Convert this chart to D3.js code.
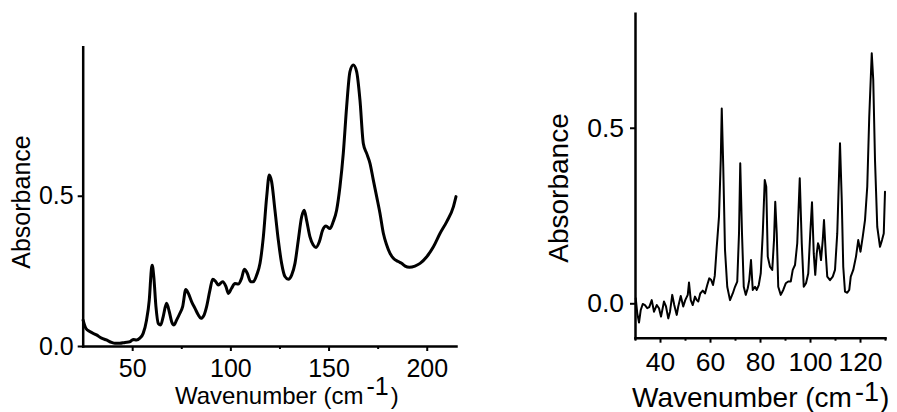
<!DOCTYPE html>
<html><head><meta charset="utf-8">
<script src="https://cdn.jsdelivr.net/npm/d3@7"></script>
<style>
body{margin:0;background:#fff}
svg{display:block;background:#fff}
text{font-family:Arial,"Liberation Sans",Helvetica,sans-serif;fill:#000}
</style>
</head><body>
<svg id="chart" width="897" height="412"></svg>
<script>
// ---------- data ----------
const leftWavenumber = [25.0,26.4,28.4,31.8,34.4,36.9,39.5,41.2,43.7,46.3,48.8,50.5,52.2,53.9,55.6,57.3,58.7,59.9,60.2,61.0,62.1,63.3,64.5,65.8,67.5,68.9,70.1,71.3,72.6,74.3,75.7,77.3,78.6,80.3,82.0,83.7,85.0,86.6,87.9,89.6,91.0,92.6,93.9,96.1,97.8,99.0,100.6,102.3,104.0,105.7,107.1,108.6,110.3,111.7,113.4,115.1,116.8,118.5,119.8,121.0,122.7,124.4,126.1,127.8,129.5,131.2,132.9,134.6,136.3,137.6,138.8,140.5,142.2,143.6,145.3,147.0,148.7,150.7,152.4,154.1,155.8,157.5,159.2,160.9,162.6,164.3,166.0,167.7,169.4,171.1,172.8,174.5,176.2,177.9,179.6,181.3,183.0,185.5,187.2,189.0,191.2,194.0,196.6,200.0,203.4,206.8,210.2,213.6,214.9];
const leftAbsorbance = [0.086,0.059,0.048,0.037,0.026,0.020,0.012,0.009,0.009,0.012,0.014,0.022,0.020,0.026,0.042,0.086,0.153,0.262,0.269,0.231,0.131,0.075,0.070,0.098,0.142,0.114,0.081,0.070,0.086,0.109,0.131,0.188,0.175,0.147,0.125,0.103,0.092,0.103,0.131,0.186,0.222,0.214,0.203,0.214,0.197,0.175,0.192,0.208,0.206,0.225,0.255,0.242,0.214,0.214,0.236,0.275,0.364,0.497,0.569,0.547,0.452,0.353,0.275,0.231,0.222,0.236,0.275,0.353,0.430,0.452,0.419,0.364,0.336,0.328,0.347,0.386,0.399,0.391,0.414,0.452,0.530,0.641,0.796,0.913,0.935,0.913,0.818,0.674,0.641,0.608,0.552,0.497,0.441,0.375,0.336,0.308,0.292,0.281,0.275,0.266,0.262,0.266,0.275,0.297,0.330,0.375,0.414,0.464,0.497];

const rightWavenumber = [30.3,30.9,31.6,32.3,33.1,34.0,34.9,35.7,36.7,37.6,38.7,39.6,40.4,41.6,42.4,43.3,44.0,44.9,45.7,46.7,47.3,48.3,49.3,50.1,51.1,51.6,52.3,53.1,54.0,54.7,55.3,56.1,57.1,58.0,58.9,59.7,60.5,61.2,61.9,62.7,63.6,64.3,64.7,65.3,66.0,66.9,68.0,69.1,70.0,70.9,71.6,72.1,72.8,73.5,74.3,75.1,75.7,76.4,77.1,78.0,78.7,79.5,80.3,81.1,81.9,82.5,83.1,84.0,84.9,85.6,86.1,86.7,87.3,88.3,89.3,90.3,91.3,92.3,93.1,94.0,94.9,95.9,96.7,97.5,98.4,99.3,100.1,100.8,101.5,102.1,102.7,103.2,103.7,104.4,105.1,105.6,106.3,106.9,108.0,109.1,110.0,110.9,112.0,112.7,113.3,114.0,114.9,115.7,116.3,117.3,118.4,119.3,120.2,121.1,122.0,122.9,123.7,124.7,125.3,126.0,126.9,128.0,128.8,129.5,130.0];
const rightAbsorbance = [0.014,-0.028,-0.055,-0.019,-0.002,-0.005,-0.014,-0.011,0.009,-0.024,-0.005,-0.014,-0.038,0.005,-0.009,-0.043,-0.024,0.024,-0.005,-0.033,-0.009,0.021,-0.009,0.009,0.024,0.059,0.009,-0.005,0.019,0.009,0.005,0.028,0.036,0.028,0.052,0.071,0.066,0.052,0.078,0.161,0.247,0.408,0.555,0.389,0.152,0.047,0.009,0.028,0.047,0.062,0.199,0.399,0.199,0.047,0.024,0.043,0.066,0.123,0.038,0.047,0.038,0.052,0.085,0.199,0.351,0.332,0.133,0.104,0.095,0.180,0.289,0.199,0.047,0.024,0.038,0.057,0.062,0.062,0.095,0.109,0.171,0.356,0.171,0.047,0.057,0.085,0.199,0.288,0.142,0.081,0.142,0.171,0.161,0.123,0.180,0.237,0.142,0.076,0.066,0.076,0.095,0.199,0.456,0.294,0.104,0.033,0.030,0.038,0.076,0.095,0.133,0.180,0.147,0.190,0.237,0.332,0.532,0.712,0.636,0.408,0.218,0.161,0.180,0.199,0.318];

const leftXTicks = [50, 100, 150, 200];
const leftXMinorTicks = [75, 125, 175];
const leftYTicks = [0, 0.5];
const rightXTicks = [40, 60, 80, 100, 120];
const rightXMinorTicks = [30, 50, 70, 90, 110, 130];
const rightYTicks = [0, 0.5];
const xTitleText = "Wavenumber (cm";
const xTitleSup = "-1";
const xTitleEnd = ")";
const yTitleText = "Absorbance";

// ---------- drawing ----------
const svg = d3.select("#chart");

function drawPanel(o) {
  const g = svg.append("g");
  const x = d3.scaleLinear().domain(o.xDomain).range(o.xRange);
  const y = d3.scaleLinear().domain(o.yDomain).range(o.yRange);

  // spectrum
  const line = d3.line().x((d, i) => x(o.xs[i])).y(d => y(d)).curve(o.curve);
  g.append("path")
    .datum(o.ys)
    .attr("d", line)
    .attr("fill", "none")
    .attr("stroke", "#000")
    .attr("stroke-width", o.lineWidth)
    .attr("stroke-linejoin", "round")
    .attr("stroke-linecap", "round");

  // minor x ticks
  const xm = g.append("g")
    .attr("transform", `translate(0,${o.yRange[0]})`)
    .call(d3.axisBottom(x).tickValues(o.xMinor).tickSize(3).tickSizeOuter(0).tickFormat(""));
  xm.select(".domain").remove();
  xm.selectAll(".tick line").attr("stroke-width", 2);

  // x axis
  const xa = g.append("g")
    .attr("transform", `translate(0,${o.yRange[0]})`)
    .call(d3.axisBottom(x).tickValues(o.xTicks).tickSize(5).tickSizeOuter(0)
      .tickPadding(o.xPad).tickFormat(d3.format("d")));
  xa.select(".domain").attr("stroke-width", 2.5).attr("stroke-linecap", "square");
  xa.selectAll(".tick line").attr("stroke-width", 2);
  xa.selectAll(".tick text").attr("font-size", o.tickFont)
    .attr("font-family", "Arial, 'Liberation Sans', sans-serif");

  // y axis
  const ya = g.append("g")
    .attr("transform", `translate(${o.xRange[0]},0)`)
    .call(d3.axisLeft(y).tickValues(o.yTicks).tickSize(5).tickSizeOuter(0)
      .tickPadding(o.yPad).tickFormat(d3.format(".1f")));
  ya.select(".domain").attr("stroke-width", 2.5).attr("stroke-linecap", "square");
  ya.selectAll(".tick line").attr("stroke-width", 2);
  ya.selectAll(".tick text").attr("font-size", o.tickFont)
    .attr("font-family", "Arial, 'Liberation Sans', sans-serif");

  // x title
  const xt = g.append("text")
    .attr("x", o.xTitleX).attr("y", o.xTitleY)
    .attr("font-size", o.titleFont);
  xt.append("tspan").text(xTitleText);
  xt.append("tspan").attr("dx", o.supDx).attr("dy", -o.supShift)
    .attr("font-size", o.supFont).text(xTitleSup);
  xt.append("tspan").attr("dx", o.endDx).attr("dy", o.supShift).text(xTitleEnd);

  // y title
  g.append("text")
    .attr("transform", `translate(${o.yTitleX},${o.yTitleY}) rotate(-90)`)
    .attr("text-anchor", "middle")
    .attr("font-size", o.yTitleFont)
    .text(yTitleText);
}

drawPanel({
  xs: leftWavenumber, ys: leftAbsorbance,
  xDomain: [24.8, 214.9], xRange: [82.7, 456],
  yDomain: [0, 0.996], yRange: [346, 46.7],
  xTicks: leftXTicks, xMinor: leftXMinorTicks, yTicks: leftYTicks,
  curve: d3.curveMonotoneX, lineWidth: 3,
  tickFont: 25, xPad: 8, yPad: 4,
  titleFont: 24, supFont: 25, xTitleX: 175, xTitleY: 404, supDx: 3, endDx: 2, supShift: 9,
  yTitleFont: 25, yTitleX: 30, yTitleY: 202
});

drawPanel({
  xs: rightWavenumber, ys: rightAbsorbance,
  xDomain: [30, 130], xRange: [635, 885],
  yDomain: [-0.098, 0.826], yRange: [337.7, 13.3],
  xTicks: rightXTicks, xMinor: rightXMinorTicks, yTicks: rightYTicks,
  curve: d3.curveLinear, lineWidth: 2,
  tickFont: 26.5, xPad: 9.5, yPad: 6,
  titleFont: 28, supFont: 27, xTitleX: 632, xTitleY: 407, supDx: 3, endDx: 1, supShift: 6,
  yTitleFont: 28, yTitleX: 568, yTitleY: 188
});
</script>
</body></html>
